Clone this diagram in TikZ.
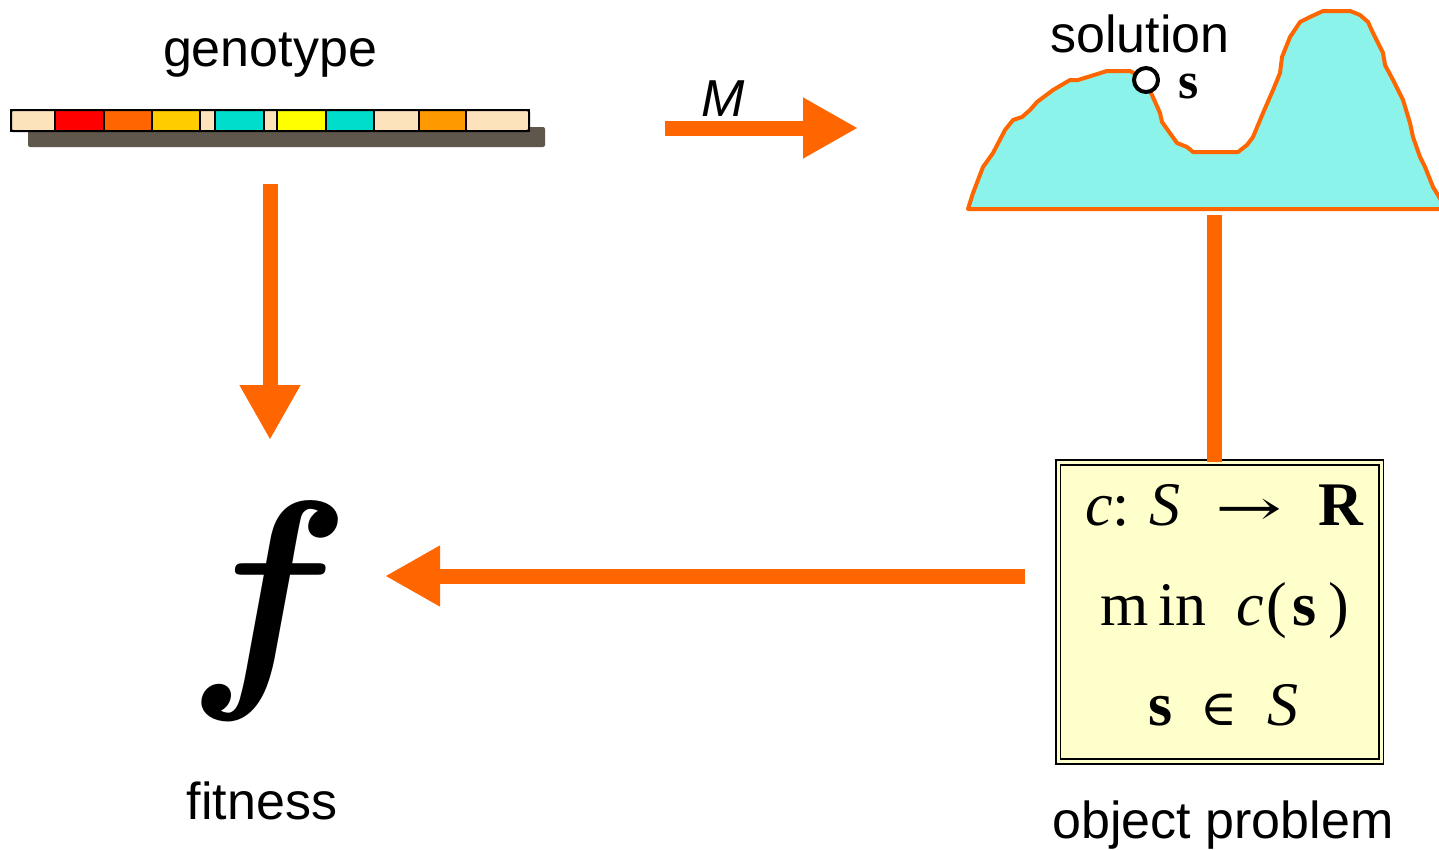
\documentclass[tikz,border=0pt]{standalone}
\usepackage{graphicx}
\usepackage{fontspec}
\setmainfont{Liberation Serif}
\setsansfont{Liberation Sans}
\newfontfamily\symfont{DejaVu Serif}
\newfontfamily\lmbi[Extension=.otf]{lmroman10-bolditalic}
\usetikzlibrary{arrows.meta}
\definecolor{orng}{HTML}{FF6600}
\definecolor{beig}{HTML}{FCE3BB}
\definecolor{gred}{HTML}{FF0000}
\definecolor{gorg}{HTML}{FF6600}
\definecolor{ggold}{HTML}{FFCC00}
\definecolor{gcyan}{HTML}{00DDCC}
\definecolor{gyel}{HTML}{FFFF00}
\definecolor{gorg2}{HTML}{FF9900}
\definecolor{shad}{HTML}{5F574C}
\definecolor{land}{HTML}{8CF3EA}
\definecolor{boxfill}{HTML}{FFFFCC}
\tikzset{
  bigarrow/.style={draw=orng, line width=15pt, -{Triangle[length=55pt,width=57pt]}, color=orng},
  bigline/.style={draw=orng, line width=15pt},
  lbl/.style={font=\sffamily\fontsize{52}{60}\selectfont, inner sep=0pt, anchor=base},
  mathtxt/.style={font=\fontsize{62}{70}\selectfont, inner sep=0pt, anchor=base west},
  seg/.style={draw=black, line width=2pt},
}
\begin{document}
\begin{tikzpicture}[x=1pt,y=-1pt]
\useasboundingbox (0,0) rectangle (1439,849);
% genotype bar
\fill[shad, rounded corners=2pt] (28,127) rectangle (545,147);
\foreach \a/\b/\c in {11/55/beig,55/104/gred,104/152/gorg,152/200/ggold,200/215/beig,215/264/gcyan,264/277/beig,277/326/gyel,326/374/gcyan,374/419/beig,419/466/gorg2,466/529/beig}
  {\filldraw[seg, fill=\c] (\a,110) rectangle (\b,131);}
\draw[line width=2pt, rounded corners=2pt] (11,110) rectangle (529,131);
\node[lbl] (geno) at (270,66) {genotype};
% landscape
\draw[orng, line width=4pt, fill=land, line join=round]
 (968,209) -- (973,193) -- (983,167) -- (993,153) -- (1005,130) -- (1013,120) -- (1022,117)
 -- (1030,110) -- (1037,102) -- (1053,90) -- (1070,80) -- (1078,80) -- (1107,71) -- (1130,71)
 -- (1143,78) -- (1152,95) -- (1160,113) -- (1162,122) -- (1177,143) -- (1187,147) -- (1193,152)
 -- (1238,152) -- (1247,145) -- (1253,137) -- (1263,113) -- (1273,90) -- (1280,73) -- (1282,57)
 -- (1290,37) -- (1300,22) -- (1310,17) -- (1323,11) -- (1350,11) -- (1360,15) -- (1368,22)
 -- (1373,33) -- (1383,53) -- (1385,65) -- (1393,80) -- (1403,100) -- (1410,123) -- (1413,137)
 -- (1420,157) -- (1425,167) -- (1433,187) -- (1441,200) -- (1441,209) -- cycle;
\node[lbl] (sol) at (1140,52) {solution};
\node[draw=black, line width=4pt, fill=white, circle, minimum size=24pt, inner sep=0pt] (pt) at (1146,80) {};
\node[font=\bfseries\fontsize{52}{60}\selectfont, inner sep=0pt, anchor=base, text height=0.45em, text depth=0pt] (s) at (1189,98) {s};
% M arrow
\node[font=\sffamily\itshape\fontsize{52}{60}\selectfont, inner sep=0pt, anchor=base] (M) at (723,116) {M};
\coordinate (m1) at (665,128);
\coordinate (m2) at (858,128);
\draw[bigarrow] (m1) -- (m2);
% genotype -> fitness
\coordinate (d1) at (270,184);
\coordinate (d2) at (270,440);
\draw[bigarrow] (d1) -- (d2);
% f
\node[font=\lmbi\fontsize{245}{250}\selectfont, inner sep=0pt, anchor=base] (fglyph) at (255,672) {f};
\node[lbl] (fit) at (262,819) {fitness};
% problem box
\node[draw=black, double=boxfill, double distance=3pt, line width=1.8pt, fill=boxfill, minimum width=323pt, minimum height=299pt, inner sep=0pt] (prob) at (1219.5,612) {};
\node[mathtxt] (l1) at (1085,525) {\textit{c}:\hspace{20pt}\textit{S}\hspace{35pt}\scalebox{1.6}[1]{\symfont\fontsize{50}{60}\selectfont →}\hspace{36pt}\textbf{R}};
\node[mathtxt] (l2) at (1100,625) {m\hspace{10pt}in\hspace{30pt}\textit{c}\hspace{2pt}(\hspace{6pt}\textbf{s}\hspace{12pt})};
\node[mathtxt] (l3) at (1148,725) {\textbf{s}\hspace{28pt}{\symfont\fontsize{50}{60}\selectfont ∈}\hspace{30pt}\textit{S}};
\node[lbl] (obj) at (1223,838) {object problem};
% vertical line landscape -> box
\coordinate (v1) at (1214,215);
\draw[bigline] (v1) -- (prob.north -| v1);
% box -> f
\coordinate (h1) at (1025,576);
\coordinate (h2) at (385,576);
\draw[bigarrow] (h1) -- (h2);
\end{tikzpicture}
\end{document}
